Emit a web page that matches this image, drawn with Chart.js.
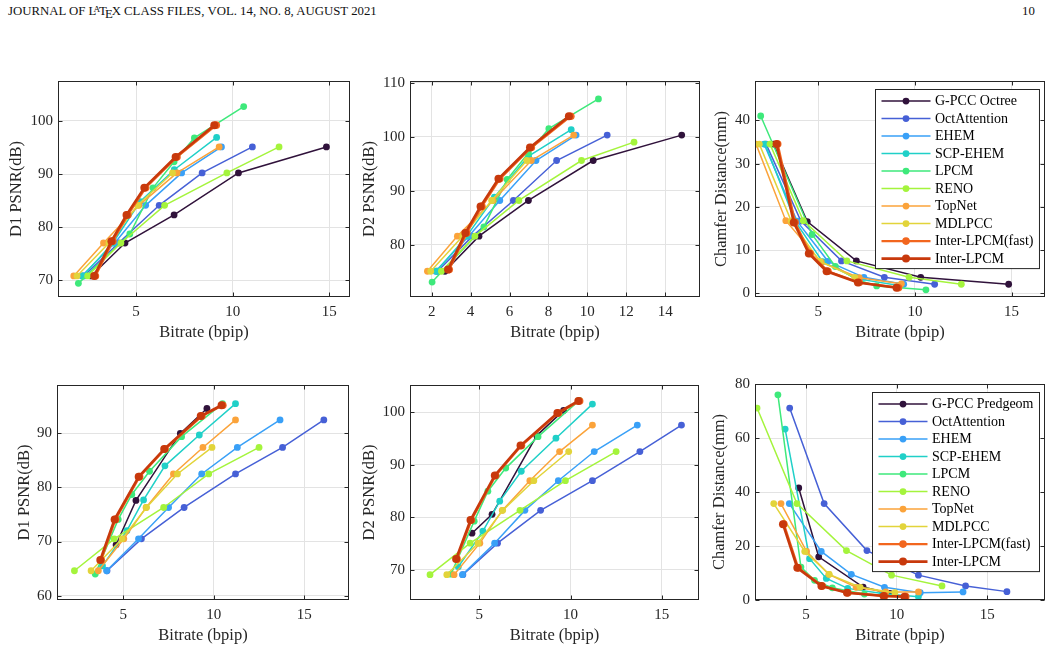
<!DOCTYPE html>
<html>
<head>
<meta charset="utf-8">
<script src="https://cdn.jsdelivr.net/npm/chart.js@4.4.0/dist/chart.umd.min.js"></script>
<style>
  body { margin: 0; background: #fff; }
  #page { position: relative; width: 1054px; height: 650px; overflow: hidden; font-family: "Liberation Serif", "Times New Roman", serif; }
  #page canvas { position: absolute; }
  .hdr { position: absolute; top: 4px; font-size: 12.8px; color: #111; white-space: nowrap; }
  .la { font-size: 0.72em; vertical-align: 0.28em; margin-left: -0.32em; margin-right: -0.12em; }
  .le { vertical-align: -0.45ex; margin-left: -0.14em; margin-right: -0.1em; }
</style>
</head>
<body>
<div id="page">
  <div class="hdr" style="left:8px">JOURNAL OF L<span class="la">A</span>T<span class="le">E</span>X CLASS FILES, VOL. 14, NO. 8, AUGUST 2021</div>
  <div class="hdr" style="left:1022px">10</div>
</div>
<script>
const fontFam = '"Liberation Serif", "Times New Roman", serif';

// series styling (legend order)
const colors = ['#30123b', '#4660d6', '#39a0f7', '#20d0c8', '#3ee97b', '#a4f43c', '#fba33a', '#e2d43a', '#f2661e', '#c8390c'];
const lineWidths = [1.5, 1.5, 1.5, 1.5, 1.5, 1.5, 1.5, 1.5, 2.2, 2.6];
const markerSizes = [3.4, 3.4, 3.4, 3.4, 3.4, 3.4, 3.4, 3.4, 3.8, 4];

const octreeNames = ['G-PCC Octree', 'OctAttention', 'EHEM', 'SCP-EHEM', 'LPCM', 'RENO', 'TopNet', 'MDLPCC', 'Inter-LPCM(fast)', 'Inter-LPCM'];
const predgeomNames = ['G-PCC Predgeom', 'OctAttention', 'EHEM', 'SCP-EHEM', 'LPCM', 'RENO', 'TopNet', 'MDLPCC', 'Inter-LPCM(fast)', 'Inter-LPCM'];

// ---- top row (octree): bitrate, D1, D2, chamfer ----
const oGpccX = [2.68, 4.43, 6.97, 10.3, 14.85];
const oGpccD1 = [70.8, 77.0, 82.3, 90.2, 95.1];
const oGpccD2 = [75.1, 81.6, 88.2, 95.6, 100.3];
const oGpccCD = [34.5, 16.6, 7.5, 3.7, 2.1];

const oOctX = [2.3, 4.1, 6.2, 8.42, 11.02];
const oOctD1 = [70.8, 77.0, 84.1, 90.2, 95.1];
const oOctD2 = [75.1, 81.6, 88.2, 95.6, 100.3];
const oOctCD = [34.5, 16.7, 7.5, 3.7, 2.1];

const oEhemX = [2.2, 3.9, 5.5, 7.36, 9.42];
const oEhemD1 = [70.8, 77.0, 84.1, 90.2, 95.1];
const oEhemD2 = [75.1, 81.6, 88.2, 95.6, 100.3];
const oEhemCD = [34.5, 16.7, 7.4, 3.7, 2.1];

const oScpX = [2.25, 3.8, 5.22, 6.98, 9.17];
const oScpD1 = [70.8, 77.0, 84.8, 90.8, 96.9];
const oScpD2 = [75.1, 81.6, 88.8, 96.4, 101.3];
const oScpCD = [34.5, 16.7, 7.3, 3.4, 1.8];

const oLpcmX = [2.02, 4.68, 5.88, 6.97, 8.02, 10.57];
const oLpcmD1 = [69.4, 78.7, 87.4, 92.3, 96.8, 102.7];
const oLpcmD2 = [73.1, 83.3, 92.1, 97.0, 101.5, 107.0];
const oLpcmCD = [41.0, 13.6, 6.2, 3.2, 1.7, 0.8];

const oRenoX = [2.5, 4.22, 6.48, 9.7, 12.4];
const oRenoD1 = [70.8, 77.0, 84.1, 90.2, 95.1];
const oRenoD2 = [75.1, 81.6, 88.2, 95.6, 99.0];
const oRenoCD = [34.5, 16.8, 7.5, 3.7, 2.1];

const oTopX = [1.78, 3.32, 5.15, 7.12, 9.3];
const oTopD1 = [70.8, 77.0, 84.1, 90.2, 95.1];
const oTopD2 = [75.1, 81.6, 88.2, 95.6, 100.3];
const oTopCD = [34.5, 16.8, 7.2, 3.6, 2.2];

const oMdlX = [1.95, 3.6, 5.08, 6.89];
const oMdlD1 = [70.8, 77.0, 84.1, 90.2];
const oMdlD2 = [75.1, 81.6, 88.2, 95.6];
const oMdlCD = [34.5, 16.7, 7.4, 3.7];

const oFastX = [2.9, 3.8, 4.58, 5.5, 7.12, 9.15];
const oFastD1 = [70.8, 77.35, 82.3, 87.4, 93.2, 99.2];
const oFastD2 = [75.4, 82.2, 87.1, 92.2, 98.0, 103.8];
const oFastCD = [34.5, 16.4, 9.2, 5.1, 2.5, 1.3];

const oInterX = [2.84, 3.73, 4.51, 5.43, 7.05, 9.05];
const oInterD1 = [70.8, 77.35, 82.3, 87.4, 93.2, 99.2];
const oInterD2 = [75.4, 82.2, 87.1, 92.2, 98.0, 103.8];
const oInterCD = [34.5, 16.4, 9.2, 5.1, 2.5, 1.3];

// ---- bottom row (predgeom) ----
const pGpccX = [4.6, 5.7, 8.15, 9.62];
const pGpccD1 = [69.4, 77.6, 90.0, 94.6];
const pGpccD2 = [77.0, 80.6, 95.6, 100.4];
const pGpccCD = [41.5, 16.0, 4.8, 2.4];

const pOctX = [4.1, 6.0, 8.36, 11.2, 13.8, 16.08];
const pOctD1 = [64.6, 70.5, 76.3, 82.5, 87.4, 92.5];
const pOctD2 = [69.1, 75.1, 81.35, 87.0, 92.56, 97.6];
const pOctCD = [71.1, 35.7, 18.3, 9.2, 5.2, 3.1];

const pEhemX = [4.08, 5.84, 7.5, 9.33, 11.3, 13.66];
const pEhemD1 = [64.6, 70.5, 76.3, 82.5, 87.4, 92.5];
const pEhemD2 = [69.1, 75.1, 81.35, 87.0, 92.56, 97.6];
const pEhemCD = [35.7, 18.0, 9.5, 4.7, 2.7, 3.0];

const pScpX = [3.85, 5.2, 6.12, 7.3, 9.2, 11.2];
const pScpD1 = [65.5, 72.0, 77.7, 84.0, 89.7, 95.5];
const pScpD2 = [70.6, 77.4, 83.1, 88.8, 95.1, 101.6];
const pScpCD = [63.3, 15.3, 8.0, 4.3, 2.4, 1.2];

const pLpcmX = [3.45, 4.72, 5.47, 6.45, 8.22, 10.48];
const pLpcmD1 = [64.0, 74.1, 78.7, 83.0, 89.4, 95.5];
const pLpcmD2 = [69.2, 79.3, 85.0, 89.4, 95.4, 102.3];
const pLpcmCD = [76.0, 12.2, 7.3, 4.5, 2.2, 1.3];

const pRenoX = [2.3, 4.5, 7.23, 9.72, 12.5];
const pRenoD1 = [64.6, 70.5, 76.3, 82.5, 87.4];
const pRenoD2 = [69.1, 75.1, 81.35, 87.0, 92.56];
const pRenoCD = [71.1, 35.7, 18.3, 9.2, 5.2];

const pTopX = [3.62, 5.03, 6.26, 7.77, 9.4, 11.2];
const pTopD1 = [64.6, 70.5, 76.3, 82.5, 87.4, 92.5];
const pTopD2 = [69.1, 75.1, 81.35, 87.0, 92.56, 97.6];
const pTopCD = [35.7, 18.0, 9.5, 4.7, 3.0, 3.0];

const pMdlX = [3.22, 4.93, 6.28, 7.99, 9.9];
const pMdlD1 = [64.6, 70.5, 76.3, 82.5, 87.4];
const pMdlD2 = [69.1, 75.1, 81.35, 87.0, 92.56];
const pMdlCD = [35.7, 18.0, 9.5, 4.7, 2.7];

const pFastX = [3.78, 4.57, 5.9, 7.31, 9.34, 10.5];
const pFastD1 = [66.6, 74.1, 82.0, 87.1, 93.2, 95.2];
const pFastD2 = [72.1, 79.5, 88.0, 93.7, 99.9, 102.2];
const pFastCD = [28.1, 11.9, 5.2, 2.7, 1.5, 1.25];

const pInterX = [3.73, 4.52, 5.85, 7.26, 9.28, 10.43];
const pInterD1 = [66.6, 74.1, 82.0, 87.1, 93.2, 95.2];
const pInterD2 = [72.1, 79.5, 88.0, 93.7, 99.9, 102.2];
const pInterCD = [28.1, 11.9, 5.2, 2.7, 1.5, 1.25];

const octreeX = [oGpccX, oOctX, oEhemX, oScpX, oLpcmX, oRenoX, oTopX, oMdlX, oFastX, oInterX];
const octreeD1 = [oGpccD1, oOctD1, oEhemD1, oScpD1, oLpcmD1, oRenoD1, oTopD1, oMdlD1, oFastD1, oInterD1];
const octreeD2 = [oGpccD2, oOctD2, oEhemD2, oScpD2, oLpcmD2, oRenoD2, oTopD2, oMdlD2, oFastD2, oInterD2];
const octreeCD = [oGpccCD, oOctCD, oEhemCD, oScpCD, oLpcmCD, oRenoCD, oTopCD, oMdlCD, oFastCD, oInterCD];
const predX = [pGpccX, pOctX, pEhemX, pScpX, pLpcmX, pRenoX, pTopX, pMdlX, pFastX, pInterX];
const predD1 = [pGpccD1, pOctD1, pEhemD1, pScpD1, pLpcmD1, pRenoD1, pTopD1, pMdlD1, pFastD1, pInterD1];
const predD2 = [pGpccD2, pOctD2, pEhemD2, pScpD2, pLpcmD2, pRenoD2, pTopD2, pMdlD2, pFastD2, pInterD2];
const predCD = [pGpccCD, pOctCD, pEhemCD, pScpCD, pLpcmCD, pRenoCD, pTopCD, pMdlCD, pFastCD, pInterCD];

// tick labels
const ticks5 = [5, 10, 15];
const ticks2 = [2, 4, 6, 8, 10, 12, 14];
const d1TopTicks = [70, 80, 90, 100];
const d2TopTicks = [80, 90, 100, 110];
const cdTopTicks = [0, 10, 20, 30, 40];
const d1BotTicks = [60, 70, 80, 90];
const d2BotTicks = [70, 80, 90, 100];
const cdBotTicks = [0, 20, 40, 60, 80];

const AX = 62, PAD_T = 12, PAD_R = 12, AH = 50;
const ink = '#262626';

// matlab-like box, inward ticks and legend inside the axes
const matlabBox = {
  id: 'matlabBox',
  afterDraw(chart, args, o) {
    const { ctx, chartArea: a } = chart;
    ctx.save();
    ctx.strokeStyle = ink;
    ctx.lineWidth = 1;
    const L = Math.round(a.left) + 0.5, T = Math.round(a.top) + 0.5;
    const R = Math.round(a.right) - 0.5, B = Math.round(a.bottom) - 0.5;
    ctx.strokeRect(L, T, R - L, B - T);
    ctx.beginPath();
    chart.scales.x.ticks.forEach(t => {
      const px = Math.round(chart.scales.x.getPixelForValue(t.value)) + 0.5;
      ctx.moveTo(px, B); ctx.lineTo(px, B - 4);
      ctx.moveTo(px, T); ctx.lineTo(px, T + 4);
    });
    chart.scales.y.ticks.forEach(t => {
      const py = Math.round(chart.scales.y.getPixelForValue(t.value)) + 0.5;
      ctx.moveTo(L, py); ctx.lineTo(L + 4, py);
      ctx.moveTo(R, py); ctx.lineTo(R - 4, py);
    });
    ctx.stroke();

    if (o.legend) {
      const names = chart.data.datasets.map(d => d.label);
      ctx.font = '14px ' + fontFam;
      const tw = Math.max(...names.map(n => ctx.measureText(n).width));
      const w = 59.5 + tw + 6;
      const h = 17.5 * (names.length - 1) + 21.6;
      const x0 = Math.round(a.right - 6 - w) + 0.5;
      const y0 = Math.round(a.top + 7.7) + 0.5;
      ctx.fillStyle = '#fff';
      ctx.fillRect(x0, y0, w, h);
      ctx.strokeStyle = ink;
      ctx.lineWidth = 1;
      ctx.strokeRect(x0, y0, w, h);
      names.forEach((n, i) => {
        const cy = y0 + 11.6 + i * 17.5;
        ctx.strokeStyle = colors[i];
        ctx.lineWidth = lineWidths[i];
        ctx.beginPath();
        ctx.moveTo(x0 + 6, cy); ctx.lineTo(x0 + 55, cy);
        ctx.stroke();
        ctx.fillStyle = colors[i];
        ctx.beginPath();
        ctx.arc(x0 + 30.5, cy, markerSizes[i], 0, Math.PI * 2);
        ctx.fill();
        ctx.fillStyle = '#000';
        ctx.textBaseline = 'middle';
        ctx.textAlign = 'left';
        ctx.fillText(n, x0 + 59.5, cy + 0.5);
      });
    }
    ctx.restore();
  }
};

const panels = [
  { area: [58, 79, 350, 297], xr: [0.965, 16.07], yr: [66.83, 107.52], xt: ticks5, yt: d1TopTicks, yTitle: 'D1 PSNR(dB)', tOff: 41.3, xs: octreeX, ys: octreeD1, names: octreeNames, legend: false },
  { area: [410, 79, 700, 297], xr: [0.884, 15.79], yr: [70.33, 110.32], xt: ticks2, yt: d2TopTicks, yTitle: 'D2 PSNR(dB)', tOff: 40.7, xs: octreeX, ys: octreeD2, names: octreeNames, legend: false },
  { area: [755, 79, 1045, 297], xr: [1.725, 16.73], yr: [-0.85, 49.09], xt: ticks5, yt: cdTopTicks, yTitle: 'Chamfer Distance(mm)', tOff: 33, xs: octreeX, ys: octreeCD, names: octreeNames, legend: true },
  { area: [57, 383, 349, 600], xr: [1.337, 17.47], yr: [59.19, 98.95], xt: ticks5, yt: d1BotTicks, yTitle: 'D1 PSNR(dB)', tOff: 32.5, xs: predX, ys: predD1, names: predgeomNames, legend: false },
  { area: [410, 383, 699, 600], xr: [1.203, 17.04], yr: [64.27, 105.24], xt: ticks5, yt: d2BotTicks, yTitle: 'D2 PSNR(dB)', tOff: 40.7, xs: predX, ys: predD2, names: predgeomNames, legend: false },
  { area: [755, 382, 1045, 600], xr: [2.187, 18.18], yr: [0, 80], xt: ticks5, yt: cdBotTicks, yTitle: 'Chamfer Distance(mm)', tOff: 35, xs: predX, ys: predCD, names: predgeomNames, legend: true }
];

const page = document.getElementById('page');

panels.forEach(p => {
  const [l, t, r, b] = p.area;
  const cv = document.createElement('canvas');
  cv.width = (r - l) + AX + PAD_R;
  cv.height = (b - t) + PAD_T + AH;
  cv.style.left = (l - AX) + 'px';
  cv.style.top = (t - PAD_T) + 'px';
  cv.style.width = cv.width + 'px';
  cv.style.height = cv.height + 'px';
  page.appendChild(cv);

  new Chart(cv, {
    type: 'scatter',
    data: {
      datasets: p.names.map((name, i) => ({
        label: name,
        data: p.xs[i].map((v, k) => ({ x: v, y: p.ys[i][k] })),
        showLine: true,
        borderColor: colors[i],
        backgroundColor: colors[i],
        borderWidth: lineWidths[i],
        pointRadius: markerSizes[i],
        pointHoverRadius: markerSizes[i],
        pointBorderWidth: 0,
        order: p.names.length - i
      }))
    },
    options: {
      responsive: false,
      animation: false,
      devicePixelRatio: 1,
      layout: { padding: { top: PAD_T, right: PAD_R, left: 0, bottom: 0 } },
      plugins: {
        legend: { display: false },
        tooltip: { enabled: false },
        matlabBox: { legend: p.legend }
      },
      scales: {
        x: {
          type: 'linear',
          min: p.xr[0], max: p.xr[1],
          afterBuildTicks: s => { s.ticks = p.xt.map(v => ({ value: v })); },
          afterFit: s => { s.height = AH; },
          grid: { color: '#e3e3e3', drawTicks: false },
          border: { display: false },
          ticks: { font: { family: fontFam, size: 15 }, color: ink, padding: 6, maxRotation: 0, autoSkip: false },
          title: { display: true, text: 'Bitrate (bpip)', font: { family: fontFam, size: 16.5 }, color: ink, padding: { top: 0, bottom: 4 } }
        },
        y: {
          type: 'linear',
          min: p.yr[0], max: p.yr[1],
          afterBuildTicks: s => { s.ticks = p.yt.map(v => ({ value: v })); },
          afterFit: s => { s.width = AX; },
          grid: { color: '#e3e3e3', drawTicks: false },
          border: { display: false },
          ticks: { font: { family: fontFam, size: 15 }, color: ink, padding: 5, autoSkip: false },
          title: { display: true, text: p.yTitle, font: { family: fontFam, size: 16.5 }, color: ink, padding: { top: AX - p.tOff - 9.9, bottom: 0 } }
        }
      }
    },
    plugins: [matlabBox]
  });
});
</script>
</body>
</html>
